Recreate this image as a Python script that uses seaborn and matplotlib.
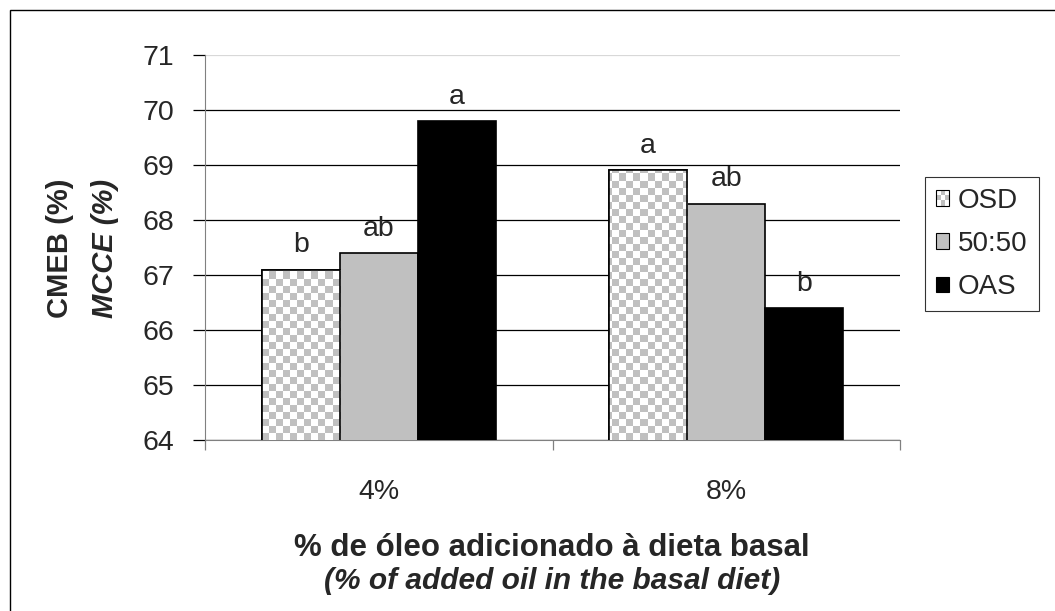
import matplotlib
matplotlib.use("Agg")
import numpy as np
import pandas as pd
import matplotlib.pyplot as plt
import seaborn as sns
from matplotlib.patches import Rectangle, Patch
from matplotlib.legend_handler import HandlerBase


# Data
oil_levels = ["4%", "8%"]
treatments = ["OSD", "50:50", "OAS"]
osd_vals = [67.1, 68.9]
mix_vals = [67.4, 68.3]
oas_vals = [69.8, 66.4]
letters = {
    "OSD": ["b", "a"],
    "50:50": ["ab", "ab"],
    "OAS": ["a", "b"],
}
y_ticks = [64, 65, 66, 67, 68, 69, 70, 71]

df = pd.DataFrame({
    "oil": oil_levels * 3,
    "treat": ["OSD"] * 2 + ["50:50"] * 2 + ["OAS"] * 2,
    "value": osd_vals + mix_vals + oas_vals,
})

sns.set_style("white")
plt.rcParams["font.family"] = ["Liberation Sans", "DejaVu Sans"]

CHECK = "#c0c0c0"

fig = plt.figure(figsize=(10.55, 6.11), dpi=100)
ax = fig.add_axes([205 / 1055, 1 - 440 / 611, 695 / 1055, 385 / 611])

sns.barplot(
    data=df, x="oil", y="value", hue="treat",
    order=oil_levels, hue_order=treatments,
    palette=["white", "#c0c0c0", "black"],
    width=0.674, edgecolor="black", linewidth=1.2,
    legend=False, ax=ax, zorder=3,
)

ax.set_ylim(64, 71)
ax.set_xlim(-0.5, 1.5)
ax.set_yticks(y_ticks)

# checkerboard fill for OSD bars (~7 px cells)
ny, nx = 55, 99
ii, jj = np.indices((ny, nx))
checker = np.where((ii + jj) % 2 == 0, 1.0, 0.0)
cmap = matplotlib.colors.ListedColormap(["white", CHECK])
for bar in ax.containers[0]:
    im = ax.imshow(checker, cmap=cmap, extent=(-0.5, 1.5, 64, 71),
                   aspect="auto", interpolation="nearest", zorder=3.1)
    im.set_clip_path(bar)
    outline = Rectangle(bar.get_xy(), bar.get_width(), bar.get_height(),
                        fill=False, edgecolor="black", linewidth=1.2, zorder=3.2)
    ax.add_patch(outline)
ax.set_xlim(-0.5, 1.5)
ax.set_ylim(64, 71)

# letters above bars
for cont, t in zip(ax.containers, treatments):
    for bar, lab in zip(cont, letters[t]):
        ax.annotate(lab, (bar.get_x() + bar.get_width() / 2, bar.get_height()),
                    xytext=(0, 8), textcoords="offset points",
                    ha="center", va="bottom", fontsize=20.5)

# grid and spines
ax.yaxis.grid(True, color="black", linewidth=0.9, zorder=0)
ax.set_axisbelow(True)
gl = ax.yaxis.get_gridlines()
gl[-1].set_color("#d8d8d8")
for s in ["top", "right"]:
    ax.spines[s].set_visible(False)
ax.spines["left"].set_color("#808080")
ax.spines["bottom"].set_color("#808080")

ax.tick_params(axis="y", which="major", direction="out", length=8.5,
               width=0.9, color="black", pad=14, labelsize=20.5, left=True)
ax.set_xticks([-0.5, 0.5, 1.5], minor=True)
ax.tick_params(axis="x", which="minor", direction="out", length=7,
               width=0.9, color="#808080", bottom=True)
ax.tick_params(axis="x", which="major", length=0, pad=28, labelsize=20.5)

ax.set_xlabel("")
ax.set_ylabel("")

# axis titles
fig.text(60 / 1055, 1 - 248 / 611, "CMEB (%)", rotation=90, fontsize=21,
         fontweight="bold", ha="center", va="center")
fig.text(105 / 1055, 1 - 248 / 611, "MCCE (%)", rotation=90, fontsize=21,
         fontweight="bold", style="italic", ha="center", va="center")
fig.text(552 / 1055, 1 - 548 / 611, "% de óleo adicionado à dieta basal",
         fontsize=22.5, fontweight="bold", ha="center", va="center")
fig.text(552 / 1055, 1 - 581 / 611, "(% of added oil in the basal diet)",
         fontsize=21.5, fontweight="bold", style="italic", ha="center", va="center")


# legend with checker handle
class CheckerHandler(HandlerBase):
    def create_artists(self, legend, orig_handle, xdescent, ydescent,
                       width, height, fontsize, trans):
        x0, y0 = -xdescent, -ydescent
        arts = [Rectangle((x0, y0), width, height, facecolor="white",
                          edgecolor="none", transform=trans)]
        n = 3
        w, h = width / n, height / n
        for i in range(n):
            for j in range(n):
                if (i + j) % 2 == 1:
                    arts.append(Rectangle((x0 + i * w, y0 + j * h), w, h,
                                          facecolor=CHECK, edgecolor="none",
                                          transform=trans))
        arts.append(Rectangle((x0, y0), width, height, fill=False,
                              edgecolor="black", linewidth=0.8, transform=trans))
        return arts


h_osd = Patch(facecolor="white", edgecolor="black", label="OSD")
h_mix = Patch(facecolor="#c0c0c0", edgecolor="black", linewidth=0.8, label="50:50")
h_oas = Patch(facecolor="black", edgecolor="black", linewidth=0.8, label="OAS")
leg = fig.legend(handles=[h_osd, h_mix, h_oas], loc="center left",
                 bbox_to_anchor=(925 / 1055, 1 - 244 / 611),
                 handler_map={h_osd: CheckerHandler()},
                 fontsize=20, frameon=True, fancybox=False,
                 handlelength=0.48, handleheight=0.48, handletextpad=0.3,
                 labelspacing=0.62, borderpad=0.4, borderaxespad=0)
leg.get_frame().set_edgecolor("black")
leg.get_frame().set_linewidth(0.8)

# outer border
fig.add_artist(Rectangle((10 / 1055, -0.1), 1.2, 1 - 10 / 611 + 0.1,
                         transform=fig.transFigure, fill=False,
                         edgecolor="black", linewidth=1.0))

plt.savefig("out.png", dpi=100)
